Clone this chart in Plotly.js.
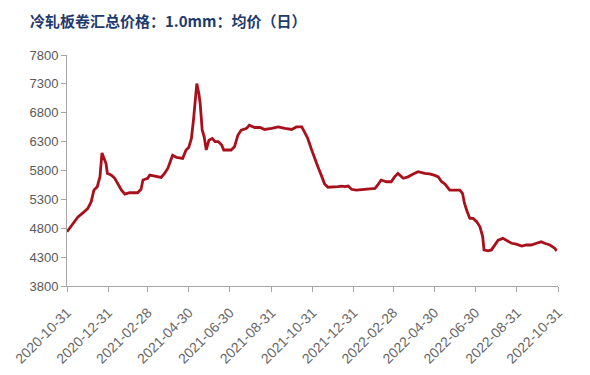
<!DOCTYPE html>
<html>
<head>
<meta charset="utf-8">
<script src="https://cdn.plot.ly/plotly-3.0.1.min.js"></script>
<style>html,body{margin:0;padding:0;background:#fff;}#chart{width:590px;height:375px;}</style>
</head>
<body>
<div id="chart"></div>
<script>
const chartTitle = "冷轧板卷汇总价格：1.0mm：均价（日）";
const dates = [
"2020-10-31","2020-11-09","2020-11-16","2020-11-24","2020-12-01","2020-12-06","2020-12-10","2020-12-15","2020-12-19","2020-12-22",
"2020-12-25","2020-12-28","2020-12-30","2021-01-05","2021-01-10","2021-01-15","2021-01-20","2021-01-25","2021-02-01","2021-02-13",
"2021-02-18","2021-02-21","2021-02-28","2021-03-03","2021-03-13","2021-03-20","2021-03-25","2021-03-30","2021-04-06","2021-04-12",
"2021-04-21","2021-04-26","2021-04-30","2021-05-04","2021-05-07","2021-05-10","2021-05-12","2021-05-15","2021-05-17","2021-05-20",
"2021-05-23","2021-05-26","2021-05-30","2021-06-04","2021-06-08","2021-06-13","2021-06-18","2021-06-21","2021-07-02","2021-07-07",
"2021-07-12","2021-07-17","2021-07-25","2021-07-29","2021-08-06","2021-08-14","2021-08-21","2021-08-31","2021-09-10","2021-09-20",
"2021-09-30","2021-10-07","2021-10-15","2021-10-19","2021-10-24","2021-10-29","2021-11-03","2021-11-08","2021-11-13","2021-11-18",
"2021-11-23","2021-12-01","2021-12-08","2021-12-13","2021-12-18","2021-12-23","2021-12-28","2022-01-04","2022-01-19","2022-02-01",
"2022-02-05","2022-02-10","2022-02-18","2022-02-25","2022-03-02","2022-03-07","2022-03-15","2022-03-22","2022-03-29","2022-04-06",
"2022-04-16","2022-04-23","2022-05-01","2022-05-06","2022-05-11","2022-05-16","2022-05-23","2022-05-31","2022-06-07","2022-06-11",
"2022-06-14","2022-06-18","2022-06-22","2022-06-27","2022-07-02","2022-07-07","2022-07-11","2022-07-13","2022-07-19","2022-07-24",
"2022-07-29","2022-08-03","2022-08-10","2022-08-18","2022-08-23","2022-08-30","2022-09-07","2022-09-14","2022-09-21","2022-09-29",
"2022-10-06","2022-10-11","2022-10-19","2022-10-26","2022-10-29"
];
const prices = [
4740,4885,4990,5070,5145,5260,5460,5520,5690,6105,
6010,5920,5750,5720,5665,5550,5460,5390,5415,5415,
5475,5635,5665,5720,5690,5680,5750,5840,6065,6025,
6010,6155,6200,6355,6670,7135,7305,7135,6960,6500,
6385,6155,6325,6355,6300,6300,6240,6155,6155,6210,
6410,6500,6530,6585,6545,6545,6510,6530,6555,6530,
6510,6555,6555,6470,6355,6180,6010,5865,5720,5565,
5510,5510,5520,5530,5520,5530,5475,5460,5475,5490,
5550,5635,5605,5605,5690,5750,5665,5690,5735,5780,
5750,5740,5715,5690,5605,5565,5460,5460,5460,5405,
5230,5085,4970,4970,4915,4825,4655,4425,4410,4425,
4510,4595,4625,4565,4540,4525,4490,4510,4510,4540,
4565,4540,4510,4455,4410
];
const tickDates = ["2020-10-31","2020-12-31","2021-02-28","2021-04-30","2021-06-30","2021-08-31","2021-10-31","2021-12-31","2022-02-28","2022-04-30","2022-06-30","2022-08-31","2022-10-31"];

const trace = {
  x: dates, y: prices, type: 'scatter', mode: 'lines',
  line: {color: '#A8101C', width: 2.8, shape: 'linear'},
  hoverinfo: 'x+y', showlegend: false
};
const axisFont = {family: 'Liberation Sans, Arial, sans-serif', size: 13, color: '#595959'};
const layout = {
  width: 590, height: 375,
  margin: {l: 67, r: 32, t: 55, b: 89},
  paper_bgcolor: '#ffffff', plot_bgcolor: '#ffffff',
  title: {
    text: chartTitle,
    font: {family: 'Noto Sans CJK SC, sans-serif', size: 15, color: '#1F3A6E', weight: 'bold'},
    xref: 'container', yref: 'container', x: 30/590, xanchor: 'left', y: 1 - 22/375, yanchor: 'middle'
  },
  xaxis: {
    type: 'date', range: ['2020-10-31', '2022-10-31'],
    tickmode: 'array', tickvals: tickDates, ticktext: tickDates,
    tickangle: -45, tickfont: {family: 'Liberation Sans, Arial, sans-serif', size: 14, color: '#666666'},
    ticklabelstandoff: 7,
    showgrid: false, zeroline: false, showline: true, linecolor: '#A6A6A6', linewidth: 1,
    ticks: 'outside', ticklen: 5, tickcolor: '#A6A6A6', fixedrange: true
  },
  yaxis: {
    range: [3800, 7800], tickmode: 'linear', tick0: 3800, dtick: 500,
    tickfont: axisFont, showgrid: false, zeroline: false, showline: true,
    linecolor: '#A6A6A6', linewidth: 1, ticks: 'outside', ticklen: 5, tickcolor: '#A6A6A6',
    fixedrange: true
  }
};
Plotly.newPlot('chart', [trace], layout, {displayModeBar: false, staticPlot: true});
</script>
</body>
</html>
